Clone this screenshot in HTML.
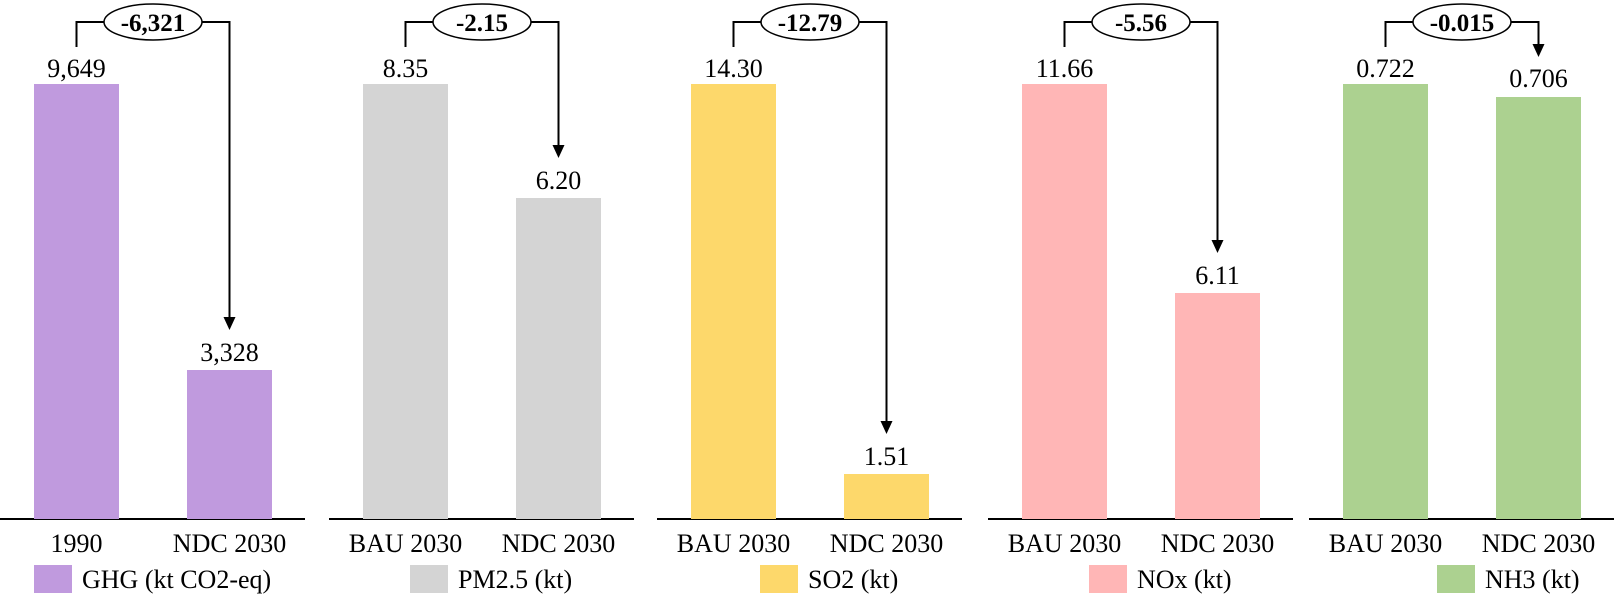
<!DOCTYPE html>
<html><head><meta charset="utf-8"><style>
html,body{margin:0;padding:0;background:#fff}
svg{display:block}
text{font-family:"Liberation Serif","Times New Roman","DejaVu Serif",serif;font-size:26px;fill:#000}
.b{font-weight:bold;font-size:25px}
</style></head><body>
<svg width="1616" height="596" viewBox="0 0 1616 596" font-family="Liberation Serif, DejaVu Serif, serif">
<g stroke="#000" stroke-width="2">
<line x1="0" y1="519" x2="305" y2="519"/>
<line x1="329" y1="519" x2="634" y2="519"/>
<line x1="657" y1="519" x2="962" y2="519"/>
<line x1="988" y1="519" x2="1293" y2="519"/>
<line x1="1309" y1="519" x2="1614" y2="519"/>
</g>
<rect x="34" y="84" width="85" height="435" fill="#c09ade"/>
<rect x="187" y="370" width="85" height="149" fill="#c09ade"/>
<rect x="363" y="84" width="85" height="435" fill="#d4d4d4"/>
<rect x="516" y="198" width="85" height="321" fill="#d4d4d4"/>
<rect x="691" y="84" width="85" height="435" fill="#fdd86b"/>
<rect x="844" y="474" width="85" height="45" fill="#fdd86b"/>
<rect x="1022" y="84" width="85" height="435" fill="#ffb6b6"/>
<rect x="1175" y="293" width="85" height="226" fill="#ffb6b6"/>
<rect x="1343" y="84" width="85" height="435" fill="#acd190"/>
<rect x="1496" y="97" width="85" height="422" fill="#acd190"/>
<g fill="none" stroke="#000" stroke-width="2">
<polyline points="76.5,47 76.5,22 229.5,22 229.5,318"/>
<polyline points="405.5,47 405.5,22 558.5,22 558.5,146"/>
<polyline points="733.5,47 733.5,22 886.5,22 886.5,422"/>
<polyline points="1064.5,47 1064.5,22 1217.5,22 1217.5,241"/>
<polyline points="1385.5,47 1385.5,22 1538.5,22 1538.5,45"/>
</g>
<g fill="#000">
<path d="M223.5,317 L235.5,317 L229.5,330 z"/>
<path d="M552.5,145 L564.5,145 L558.5,158 z"/>
<path d="M880.5,421 L892.5,421 L886.5,434 z"/>
<path d="M1211.5,240 L1223.5,240 L1217.5,253 z"/>
<path d="M1532.5,44 L1544.5,44 L1538.5,57 z"/>
</g>
<g fill="#fff" stroke="#000" stroke-width="1.5">
<ellipse cx="153" cy="22" rx="49" ry="18"/>
<ellipse cx="482" cy="22" rx="49" ry="18"/>
<ellipse cx="810" cy="22" rx="49" ry="18"/>
<ellipse cx="1141" cy="22" rx="49" ry="18"/>
<ellipse cx="1462" cy="22" rx="49" ry="18"/>
</g>
<g text-anchor="middle">
<text class="b" x="153" y="31">-6,321</text>
<text class="b" x="482" y="31">-2.15</text>
<text class="b" x="810" y="31">-12.79</text>
<text class="b" x="1141" y="31">-5.56</text>
<text class="b" x="1462" y="31">-0.015</text>
<text x="76.5" y="77">9,649</text>
<text x="229.5" y="361">3,328</text>
<text x="405.5" y="77">8.35</text>
<text x="558.5" y="189">6.20</text>
<text x="733.5" y="77">14.30</text>
<text x="886.5" y="465">1.51</text>
<text x="1064.5" y="77">11.66</text>
<text x="1217.5" y="284">6.11</text>
<text x="1385.5" y="77">0.722</text>
<text x="1538.5" y="87">0.706</text>
<text x="76.5" y="552">1990</text>
<text x="229.5" y="552">NDC 2030</text>
<text x="405.5" y="552">BAU 2030</text>
<text x="558.5" y="552">NDC 2030</text>
<text x="733.5" y="552">BAU 2030</text>
<text x="886.5" y="552">NDC 2030</text>
<text x="1064.5" y="552">BAU 2030</text>
<text x="1217.5" y="552">NDC 2030</text>
<text x="1385.5" y="552">BAU 2030</text>
<text x="1538.5" y="552">NDC 2030</text>
</g>
<rect x="34" y="565" width="38" height="28" fill="#c09ade"/>
<text x="82" y="588">GHG (kt CO2-eq)</text>
<rect x="410" y="565" width="38" height="28" fill="#d4d4d4"/>
<text x="458" y="588">PM2.5 (kt)</text>
<rect x="760" y="565" width="38" height="28" fill="#fdd86b"/>
<text x="808" y="588">SO2 (kt)</text>
<rect x="1089" y="565" width="38" height="28" fill="#ffb6b6"/>
<text x="1137" y="588">NOx (kt)</text>
<rect x="1437" y="565" width="38" height="28" fill="#acd190"/>
<text x="1485" y="588">NH3 (kt)</text>
</svg>
</body></html>
